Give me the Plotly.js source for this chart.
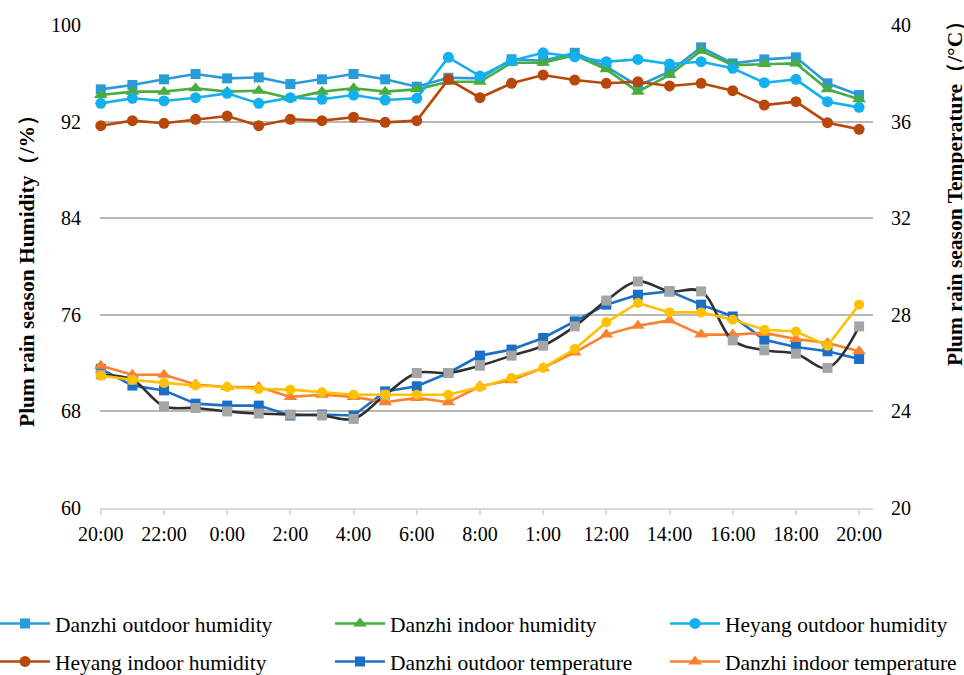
<!DOCTYPE html>
<html>
<head>
<meta charset="utf-8">
<script src="https://cdn.plot.ly/plotly-3.0.1.min.js"></script>
<style>
  html, body { margin: 0; padding: 0; background: #ffffff; }
  #chart { width: 964px; height: 675px; }
</style>
</head>
<body>
<div id="chart"></div>
<script>
// Hourly readings from 20:00 to 20:00 the next evening
const hours = ['20:00','21:00','22:00','23:00','0:00','1:00','2:00','3:00','4:00','5:00','6:00','7:00','8:00',
               '9:00','10:00','11:00','12:00','13:00','14:00','15:00','16:00','17:00','18:00','19:00','20:00'];
const tickLabels = ['20:00','22:00','0:00','2:00','4:00','6:00','8:00','1:00','12:00','14:00','16:00','18:00','20:00'];

// Relative humidity (%)
const danzhiOutHum = [94.67, 95.03, 95.50, 95.94, 95.58, 95.66, 95.11, 95.50, 95.94, 95.50, 94.89, 95.63, 95.58,
                      97.16, 97.04, 97.70, 96.55, 94.95, 96.13, 98.15, 96.82, 97.15, 97.32, 95.17, 94.20];
const danzhiInHum  = [94.20, 94.48, 94.48, 94.76, 94.48, 94.56, 93.93, 94.48, 94.76, 94.48, 94.67, 95.30, 95.30,
                      96.87, 96.87, 97.50, 96.33, 94.48, 95.86, 97.87, 96.68, 96.77, 96.82, 94.67, 93.85];
const heyangOutHum = [93.51, 93.93, 93.71, 93.98, 94.34, 93.51, 93.98, 93.85, 94.20, 93.79, 93.93, 97.32, 95.77,
                      97.04, 97.70, 97.37, 96.96, 97.15, 96.77, 96.96, 96.41, 95.22, 95.50, 93.65, 93.18];
const heyangInHum  = [91.66, 92.08, 91.86, 92.19, 92.46, 91.66, 92.19, 92.08, 92.36, 91.94, 92.08, 95.50, 93.98,
                      95.17, 95.86, 95.44, 95.17, 95.30, 94.95, 95.17, 94.56, 93.37, 93.65, 91.91, 91.36];

// Air temperature (°C)
const danzhiOutTemp = [25.76, 25.07, 24.87, 24.32, 24.24, 24.24, 23.83, 23.87, 23.83, 24.83, 25.04, 25.59, 26.31,
                       26.56, 27.04, 27.73, 28.42, 28.83, 28.97, 28.42, 27.93, 26.97, 26.67, 26.49, 26.17];
const danzhiInTemp  = [25.89, 25.52, 25.52, 25.11, 25.01, 25.01, 24.60, 24.69, 24.60, 24.38, 24.56, 24.38, 25.04,
                       25.29, 25.80, 26.44, 27.18, 27.55, 27.77, 27.18, 27.18, 27.25, 27.00, 26.83, 26.49];
const heyangOutTemp = [25.52, 25.31, 24.21, 24.14, 24.00, 23.91, 23.87, 23.83, 23.69, 24.69, 25.59, 25.59, 25.89,
                       26.31, 26.72, 27.52, 28.59, 29.38, 28.97, 28.97, 26.94, 26.53, 26.39, 25.80, 27.52];
const heyangInTemp  = [25.48, 25.31, 25.18, 25.07, 25.01, 24.93, 24.90, 24.79, 24.69, 24.69, 24.69, 24.69, 25.01,
                       25.38, 25.80, 26.58, 27.69, 28.49, 28.10, 28.10, 27.80, 27.38, 27.31, 26.72, 28.42];

const xIdx = hours.map((_, i) => i);
const tickIdx = tickLabels.map((_, i) => i * 2);

const FONT = 'Liberation Serif, Times New Roman, serif';

function series(name, y, color, symbol, size, opts) {
  opts = opts || {};
  return {
    type: 'scatter', mode: 'lines+markers', name: name,
    x: xIdx, y: y, customdata: hours,
    yaxis: opts.y2 ? 'y2' : 'y',
    legend: opts.legend,
    showlegend: opts.legend !== undefined,
    cliponaxis: false,
    line: { color: opts.lineColor || color, width: 2.6, shape: opts.shape || 'linear', smoothing: 1 },
    marker: { color: color, symbol: symbol, size: size, line: { width: 0 } },
    hovertemplate: '%{customdata}: %{y}<extra>' + name + '</extra>'
  };
}

const traces = [
  series('Danzhi outdoor humidity', danzhiOutHum, '#2A9AD8', 'square', 10, { legend: 'legend' }),
  series('Danzhi indoor humidity', danzhiInHum, '#48AD3C', 'triangle-up', 12, { legend: 'legend2' }),
  series('Heyang outdoor humidity', heyangOutHum, '#12B0EE', 'circle', 11, { legend: 'legend3' }),
  series('Heyang indoor humidity', heyangInHum, '#B8480A', 'circle', 11, { legend: 'legend4' }),
  series('Danzhi outdoor temperature', danzhiOutTemp, '#1C6FC6', 'square', 10, { legend: 'legend5', y2: true }),
  series('Danzhi indoor temperature', danzhiInTemp, '#F98230', 'triangle-up', 12, { legend: 'legend6', y2: true }),
  series('Heyang outdoor temperature', heyangOutTemp, '#A5A5A5', 'square', 10, { y2: true, lineColor: '#303030', shape: 'spline' }),
  series('Heyang indoor temperature', heyangInTemp, '#FFC000', 'circle', 10, { y2: true })
];

// Plot area spans x 100..873 px and y 25..508 px
const L = 100, R = 873, T = 25, B = 508;
const W = R - L, H = B - T;
const px = v => (v - L) / W;
const py = v => (B - v) / H;

function legendAt(x, y) {
  return {
    x: px(x), y: py(y), xanchor: 'left', yanchor: 'top',
    bgcolor: 'rgba(0,0,0,0)', borderwidth: 0,
    font: { family: FONT, size: 21.5, color: '#000000' },
    itemwidth: 50, itemclick: false, itemdoubleclick: false
  };
}

const layout = {
  width: 964, height: 675,
  paper_bgcolor: '#ffffff', plot_bgcolor: '#ffffff',
  margin: { l: L, r: 964 - R, t: T, b: 675 - B, autoexpand: false },
  font: { family: FONT, size: 20, color: '#000000' },
  hovermode: 'closest',
  xaxis: {
    range: [-0.025, 24.44], fixedrange: true,
    tickmode: 'array', tickvals: tickIdx, ticktext: tickLabels,
    showgrid: false, zeroline: false,
    showline: true, linecolor: '#D9D9D9', linewidth: 1.5,
    ticks: 'outside', ticklen: 5, tickcolor: '#D9D9D9', tickwidth: 1.5,
    ticklabelstandoff: 2,
    tickfont: { family: FONT, size: 20, color: '#000000' }
  },
  yaxis: {
    range: [60, 100], dtick: 8, tick0: 60, fixedrange: true,
    showgrid: true, gridcolor: '#B8B8B8', gridwidth: 1.5,
    zeroline: false, showline: false, ticks: '',
    ticklabelstandoff: 18,
    tickfont: { family: FONT, size: 20, color: '#000000' }
  },
  yaxis2: {
    overlaying: 'y', side: 'right',
    range: [20, 40], dtick: 4, tick0: 20, fixedrange: true,
    showgrid: false, zeroline: false, showline: false, ticks: '',
    ticklabelstandoff: 17,
    tickfont: { family: FONT, size: 20, color: '#000000' }
  },
  annotations: [
    { text: '<b>Plum rain season Humidity（/%）</b>', xref: 'paper', yref: 'paper',
      x: px(27), y: py(266), xanchor: 'center', yanchor: 'middle', textangle: -90, showarrow: false,
      font: { family: FONT, size: 21.5, color: '#000000' } },
    { text: '<b>Plum rain season Temperature（/°C）</b>', xref: 'paper', yref: 'paper',
      x: px(955), y: py(188), xanchor: 'center', yanchor: 'middle', textangle: -90, showarrow: false,
      font: { family: FONT, size: 21.5, color: '#000000' } }
  ],
  legend:  legendAt(-5, 603),
  legend2: legendAt(330, 603),
  legend3: legendAt(665, 603),
  legend4: legendAt(-5, 641),
  legend5: legendAt(330, 641),
  legend6: legendAt(665, 641)
};

Plotly.newPlot('chart', traces, layout, { displayModeBar: false, staticPlot: false });
</script>
</body>
</html>
